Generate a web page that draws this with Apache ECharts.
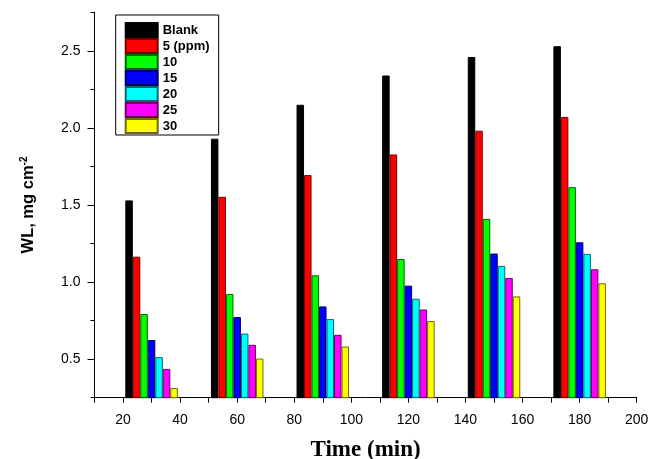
<!DOCTYPE html>
<html>
<head>
<meta charset="utf-8">
<script src="https://cdn.jsdelivr.net/npm/echarts@6/dist/echarts.min.js"></script>
<style>html,body{margin:0;padding:0;background:#fff}#c{width:653px;height:459px}</style>
</head>
<body>
<div id="c"></div>
<script>
// Data
const times = [30, 60, 90, 120, 150, 180];
const seriesNames = ['Blank', '5 (ppm)', '10', '15', '20', '25', '30'];
const blank = [1.53, 1.93, 2.15, 2.34, 2.46, 2.53];
const ppm5  = [1.165, 1.553, 1.694, 1.828, 1.982, 2.071];
const ppm10 = [0.793, 0.923, 1.044, 1.150, 1.410, 1.616];
const ppm15 = [0.624, 0.773, 0.842, 0.977, 1.185, 1.258];
const ppm20 = [0.513, 0.666, 0.760, 0.892, 1.105, 1.183];
const ppm25 = [0.437, 0.593, 0.658, 0.822, 1.027, 1.083];
const ppm30 = [0.313, 0.504, 0.582, 0.747, 0.907, 0.992];
const xTickLabels = [20, 40, 60, 80, 100, 120, 140, 160, 180, 200];
const yTickLabels = [0.5, 1.0, 1.5, 2.0, 2.5];

const values = [blank, ppm5, ppm10, ppm15, ppm20, ppm25, ppm30];
const colors = ['#000000', '#ff0000', '#00ff00', '#0000ff', '#00ffff', '#ff00ff', '#ffff00'];
const borders = ['#000000', '#7a0000', '#006600', '#000066', '#006b6b', '#6b006b', '#6b6b00'];

const SANS = 'Liberation Sans, Arial, sans-serif';
const SERIF = 'Liberation Serif, Times New Roman, serif';

const chart = echarts.init(document.getElementById('c'), null, {renderer: 'canvas'});
chart.setOption({
  animation: false,
  backgroundColor: '#fff',
  grid: {left: 94.5, right: 16.3, top: 12.3, bottom: 61.3, containLabel: false, outerBoundsMode: 'none'},
  legend: {
    orient: 'vertical',
    left: 115.7, top: 15,
    data: seriesNames,
    itemWidth: 32, itemHeight: 14, itemGap: 0,
    padding: [7, 9, 1, 9],
    borderColor: '#000', borderWidth: 1,
    icon: 'rect',
    textStyle: {fontFamily: SANS, fontWeight: 'bold', fontSize: 13, color: '#000'}
  },
  xAxis: {
    type: 'value', min: 10, max: 200, interval: 10,
    name: 'Time (min)', nameLocation: 'middle', nameGap: 41,
    nameTextStyle: {fontFamily: SERIF, fontWeight: 'bold', fontSize: 23, color: '#000'},
    axisLine: {show: true, onZero: false, lineStyle: {color: '#000', width: 1}},
    axisTick: {show: true, length: 5, lineStyle: {color: '#000'}},
    axisLabel: {
      margin: 15, fontFamily: SANS, fontSize: 14, color: '#000',
      formatter: v => xTickLabels.includes(v) ? String(v) : ''
    },
    splitLine: {show: false}
  },
  yAxis: [{
    type: 'value', min: 0.25, max: 2.75, interval: 0.25, position: 'left',
    axisLine: {show: true, onZero: false, lineStyle: {color: '#000', width: 1}},
    axisTick: {show: true, length: 4, lineStyle: {color: '#000'}},
    axisLabel: {show: false},
    splitLine: {show: false}
  }, {
    type: 'value', min: 0.25, max: 2.75, interval: 0.25, position: 'left',
    name: '{b|WL, mg cm}{s|-2}', nameLocation: 'middle', nameGap: 58, nameRotate: 90,
    nameTextStyle: {
      color: '#000',
      rich: {
        b: {fontFamily: SANS, fontWeight: 'bold', fontSize: 16.5, color: '#000'},
        s: {fontFamily: SANS, fontWeight: 'bold', fontSize: 10, color: '#000', verticalAlign: 'top'}
      }
    },
    axisLine: {show: false},
    axisTick: {show: true, length: 7, customValues: yTickLabels, lineStyle: {color: '#000'}},
    axisLabel: {
      margin: 14, fontFamily: SANS, fontSize: 14, color: '#000',
      customValues: yTickLabels, formatter: v => v.toFixed(1)
    },
    splitLine: {show: false}
  }],
  series: seriesNames.map((name, i) => ({
    name: name,
    type: 'bar',
    xAxisIndex: 0, yAxisIndex: 0,
    barWidth: 7.5, barGap: '0%',
    itemStyle: {color: colors[i], borderColor: borders[i], borderWidth: 1},
    data: times.map((t, j) => [t, values[i][j]])
  }))
});
</script>
</body>
</html>
